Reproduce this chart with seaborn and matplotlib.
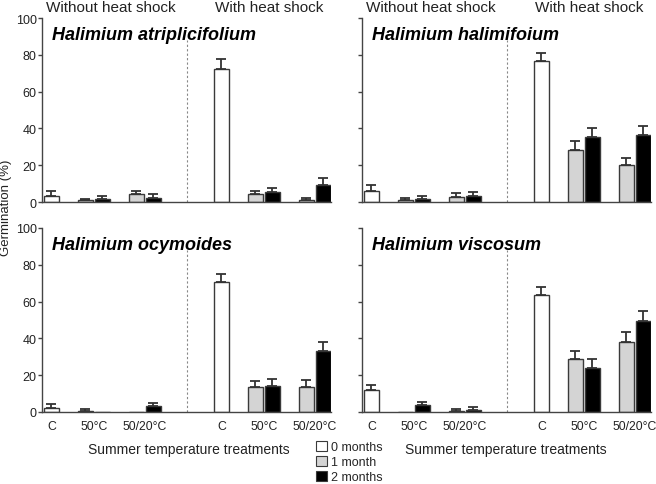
import numpy as np
import pandas as pd
import matplotlib
matplotlib.use("Agg")
import matplotlib.pyplot as plt
from matplotlib.patches import Patch
import seaborn as sns

# Datos
species = ["Halimium atriplicifolium", "Halimium halimifoium",
           "Halimium ocymoides", "Halimium viscosum"]
shock = ["Without heat shock", "With heat shock"]
treatments = ["C", "50°C", "50/20°C"]
storage = ["0 months", "1 month", "2 months"]

# barras de cada mitad: C (0 meses), 50°C (1, 2 meses), 50/20°C (1, 2 meses)
bar_treat = ["C", "50°C", "50°C", "50/20°C", "50/20°C"]
bar_store = ["0 months", "1 month", "2 months", "1 month", "2 months"]

# germinacion (%) [sin choque termico, con choque termico]
atri_mean = [[3.3, 1.1, 1.6, 4.2, 2.2], [72.4, 4.2, 5.4, 1.1, 9.3]]
atri_se = [[2.7, 0.5, 1.8, 1.8, 2.0], [5.1, 1.8, 2.4, 1.1, 3.6]]
hali_mean = [[6.0, 0.9, 1.6, 2.9, 3.1], [76.4, 28.3, 35.2, 20.1, 36.5]]
hali_se = [[3.3, 1.1, 1.8, 1.8, 2.3], [4.4, 4.9, 5.1, 4.0, 4.9]]
ocy_mean = [[2.4, 0.7, 0.0, 0.0, 3.1], [70.4, 13.8, 14.3, 13.8, 33.2]]
ocy_se = [[1.8, 0.9, 0.0, 0.0, 1.8], [4.6, 3.1, 3.8, 3.6, 4.9]]
visc_mean = [[11.8, 0.0, 3.6, 0.5, 1.1], [63.5, 29.0, 24.0, 38.3, 49.5]]
visc_se = [[3.1, 0.0, 1.8, 1.0, 1.8], [4.6, 4.2, 4.9, 5.1, 5.3]]

means = [atri_mean, hali_mean, ocy_mean, visc_mean]
ses = [atri_se, hali_se, ocy_se, visc_se]

rows = []
for sp, m, s in zip(species, means, ses):
    for h, sh in enumerate(shock):
        for b in range(len(bar_treat)):
            rows.append(dict(species=sp, shock=sh, treatment=bar_treat[b],
                             storage=bar_store[b], germ=m[h][b], se=s[h][b]))
df = pd.DataFrame(rows)

# posiciones de las barras (ranuras)
slot = {"C": 0, "50°C": 2, "50/20°C": 5}
half = 10
df["pos"] = (df["treatment"].map(slot) + (df["storage"] == "2 months").astype(int)
             + half * (df["shock"] == shock[1]).astype(int)).astype(float)

centers = {"C": 0, "50°C": 2.5, "50/20°C": 5.5}
tick_pos = [centers[t] for t in treatments] + [centers[t] + half for t in treatments]
tick_lab = treatments + treatments

colors = {"0 months": "white", "1 month": "#d4d4d4", "2 months": "black"}
edge = "#3a3a3a"

sns.set_style("ticks")
plt.rcParams["font.family"] = ["Liberation Sans", "DejaVu Sans"]
plt.rcParams["axes.edgecolor"] = "#444444"
plt.rcParams["axes.linewidth"] = 1.0

fig = plt.figure(figsize=(6.56, 4.85), dpi=100)
W, H = 656, 485
boxes = [(42, 19), (362, 19), (42, 229), (362, 229)]
axw, axh = 289, 184

for i, sp in enumerate(species):
    x0, y0 = boxes[i]
    ax = fig.add_axes([x0 / W, 1 - (y0 + axh) / H, axw / W, axh / H])
    sub = df[df["species"] == sp]
    sns.barplot(data=sub, x="pos", y="germ", hue="storage", hue_order=storage,
                palette=colors, native_scale=True, dodge=False, width=0.85,
                errorbar=None, saturation=1, edgecolor=edge, linewidth=1,
                legend=False, ax=ax)
    e = sub[sub["se"] > 0]
    ax.errorbar(e["pos"], e["germ"], yerr=[np.zeros(len(e)), e["se"]], fmt="none",
                ecolor="#333333", elinewidth=1.3, capsize=3.5, capthick=1.3)
    ax.vlines(half - 2, 0, 88, colors="#888888", linestyles=(0, (2, 2)), linewidth=0.8)

    ax.set_ylim(0, 100)
    ax.set_xlim(-0.55, 16.45)
    ax.set_yticks(range(0, 101, 20))
    ax.set_xticks(tick_pos)
    ax.set_xlabel("")
    ax.set_ylabel("")
    ax.tick_params(axis="y", length=3, width=1, pad=0.8, labelsize=9, colors="#444444", labelcolor="#222222")
    ax.tick_params(axis="x", length=0, pad=6, labelsize=8.8, labelcolor="#222222")
    if i % 2 == 1:
        ax.set_yticklabels([])
    if i < 2:
        ax.set_xticklabels([])
        ax.annotate(shock[0], xy=(3.5, 100), xytext=(0, 5), textcoords="offset points",
                    ha="center", va="baseline", fontsize=11, color="#222222", annotation_clip=False)
        ax.annotate(shock[1], xy=(12.8, 100), xytext=(0, 5), textcoords="offset points",
                    ha="center", va="baseline", fontsize=11, color="#222222", annotation_clip=False)
    else:
        ax.set_xticklabels(tick_lab)
    ax.text(0.05, 88.5, sp, fontsize=13, fontweight="bold", fontstyle="italic",
            ha="left", va="baseline", color="black")
    sns.despine(ax=ax)

fig.text(6 / W, 1 - 208 / H, "Germination (%)", rotation=90, ha="center", va="center",
         fontsize=9.5, color="#222222")
fig.text(189 / W, 1 - 450 / H, "Summer temperature treatments", ha="center", va="center",
         fontsize=10, color="#222222")
fig.text(506 / W, 1 - 450 / H, "Summer temperature treatments", ha="center", va="center",
         fontsize=10, color="#222222")

handles = [Patch(facecolor=colors[s], edgecolor=edge, linewidth=0.8) for s in storage]
fig.legend(handles, storage, loc="upper left", bbox_to_anchor=(316 / W, 1 - 442 / H),
           frameon=False, fontsize=9, handlelength=0.9, handleheight=0.9,
           handletextpad=0.3, labelspacing=0.2, borderpad=0, borderaxespad=0)

fig.savefig("out.png", dpi=100, facecolor="white")
